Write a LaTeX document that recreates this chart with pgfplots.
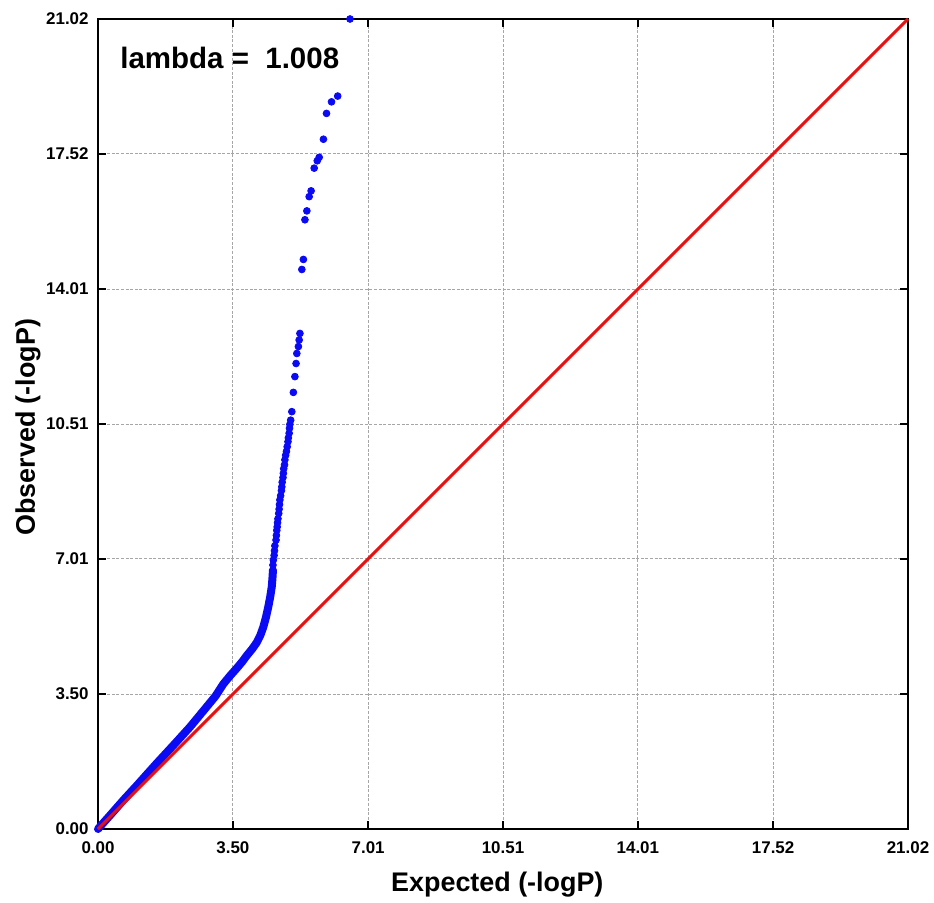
\documentclass[border=0pt]{standalone}
\usepackage{fontspec}
\setmainfont{Liberation Sans}
\usepackage{pgfplots}
\pgfplotsset{compat=1.18}
\definecolor{qqblue}{RGB}{10,10,245}
\definecolor{qqred}{RGB}{228,18,18}

\begin{document}
\begin{tikzpicture}
\useasboundingbox (-49bp,-37bp) rectangle (418bp,414.5bp);
\begin{axis}[
  at={(0,0)}, anchor=south west,
  scale only axis,
  width=405bp, height=405bp,
  xmin=0, xmax=21.02, ymin=0, ymax=21.02,
  clip=false,
  xtick={0,3.50,7.01,10.51,14.01,17.52,21.02},
  ytick={0,3.50,7.01,10.51,14.01,17.52,21.02},
  xticklabels={0.00,3.50,7.01,10.51,14.01,17.52,21.02},
  yticklabels={0.00,3.50,7.01,10.51,14.01,17.52,21.02},
  tick align=inside,
  major tick length=4bp,
  every tick/.style={black, line width=1bp},
  axis line style={black, line width=1.3bp},
  grid=major,
  grid style={black!35, line width=0.5bp, dash pattern=on 1.5bp off 0.8bp},
  ticklabel style={font=\bfseries\fontsize{8.5}{10}\selectfont},
  xticklabel style={yshift=-3bp},
  yticklabel style={xshift=-1.2bp},
  xlabel={Expected (-logP)},
  ylabel={Observed (-logP)},
  label style={font=\bfseries\fontsize{13.5}{16}\selectfont},
  xlabel style={at={(axis description cs:0.493,-0.0774)}, anchor=base},
  ylabel style={at={(axis description cs:-0.0778,0.496)}, anchor=base, rotate=0},
  dot/.style={only marks, color=qqblue, mark=*, mark size=1.7bp,
    mark options={solid, draw=none, fill=qqblue}},
]
% dense lower band
\addplot[qqblue, line width=4bp, line join=round, line cap=round, no marks] coordinates {
  (0,0) (0.05,0.06) (0.30,0.34) (0.66,0.75) (1.00,1.12) (1.52,1.70)
  (2.00,2.22) (2.39,2.65) (2.82,3.17) (3.05,3.45) (3.25,3.76) (3.43,3.98)
  (3.60,4.17) (3.75,4.35) (3.86,4.50) (4.00,4.67) (4.12,4.84) (4.21,5.02)
  (4.29,5.24) (4.36,5.50) (4.42,5.77) (4.47,6.03) (4.51,6.29) (4.53,6.55)
  (4.54,6.72)
};
% middle part
\addplot[dot] coordinates {
  (4.54,6.85) (4.55,6.98) (4.57,7.10) (4.58,7.22) (4.59,7.35) (4.62,7.50)
  (4.63,7.62) (4.64,7.75) (4.65,7.84) (4.66,7.95) (4.67,8.05) (4.69,8.19)
  (4.70,8.30) (4.71,8.42) (4.72,8.54) (4.74,8.65) (4.76,8.78) (4.77,8.88)
  (4.78,9.00) (4.80,9.12) (4.81,9.23) (4.82,9.35) (4.84,9.45) (4.85,9.58)
  (4.87,9.70) (4.89,9.80) (4.91,9.92) (4.93,10.05) (4.94,10.15) (4.96,10.27)
  (4.97,10.40) (4.98,10.50) (5.00,10.61) (5.03,10.83) (5.07,11.33)
};
% sparse top
\addplot[dot] coordinates {
  (5.11,11.74) (5.14,12.08) (5.16,12.34) (5.20,12.52) (5.22,12.69) (5.24,12.86)
  (5.29,14.52) (5.33,14.78) (5.37,15.81) (5.42,16.04) (5.48,16.41) (5.53,16.56)
  (5.61,17.15) (5.69,17.34) (5.74,17.43) (5.85,17.90) (5.93,18.57) (6.06,18.87)
  (6.22,19.02) (6.54,21.02)
};
% expected line
\addplot[qqred, line width=1.5bp, no marks] coordinates {(0,0) (21.02,21.02)};
\node[anchor=west, inner sep=0pt, font=\bfseries\fontsize{14.8}{17}\selectfont]
  at (axis cs:0.57,20.0) {lambda =\ \ 1.008};
\end{axis}
\end{tikzpicture}
\end{document}
